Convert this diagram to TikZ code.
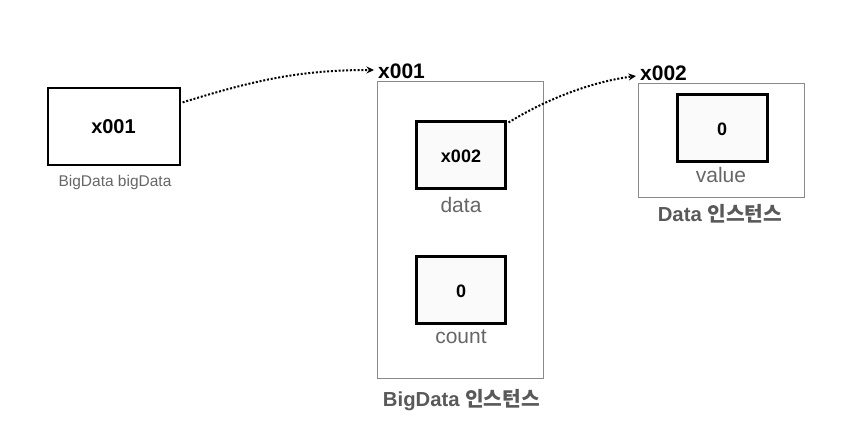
\documentclass[tikz,border=0pt]{standalone}
\usepackage{fontspec}
\setmainfont{Liberation Sans}
\newfontfamily\kr{Noto Sans CJK KR}
\usetikzlibrary{arrows.meta,calc}
\definecolor{lbl}{HTML}{666666}
\definecolor{ttl}{HTML}{595959}
\definecolor{framegray}{HTML}{8A8A8A}
\begin{document}
\begin{tikzpicture}[x=1pt,y=-1pt,
  varbox/.style={draw=black,line width=1.2pt,fill=white,inner sep=0pt},
  cellbox/.style={draw=black,line width=3pt,fill=black!2,inner sep=0pt},
  instbox/.style={draw=framegray,line width=0.9pt,inner sep=0pt},
  lbltext/.style={text=lbl,inner sep=0pt,font=\fontsize{21}{24}\selectfont},
  addr/.style={inner sep=0pt,font=\bfseries\fontsize{21}{24}\selectfont},
  celltext/.style={inner sep=0pt,font=\bfseries\fontsize{18}{22}\selectfont},
  title/.style={text=ttl,inner sep=0pt,font=\bfseries\fontsize{20.3}{24}\selectfont},
  ptr/.style={line width=2pt,dash pattern=on 2pt off 1.8pt,-{Stealth[length=7.5pt,width=7pt]}}]
\useasboundingbox (0,0) rectangle (851,435);
% left variable
\node[varbox,minimum width=132pt,minimum height=77pt] (var) at (114,126.5) {};
\node[addr,font=\bfseries\fontsize{20}{24}\selectfont] (vartxt) at (113.5,127) {x001};
\node[text=lbl,inner sep=0pt,font=\fontsize{15.5}{18}\selectfont] (varlbl) at (115,182) {BigData bigData};
% BigData instance
\node[instbox,minimum width=166pt,minimum height=297pt] (big) at (460,229.5) {};
\node[addr,anchor=west] (a1) at (378,71) {x001};
\node[cellbox,minimum width=89pt,minimum height=67pt] (data) at (460.5,155.5) {};
\node[celltext] (datatxt) at (461,156) {x002};
\node[lbltext] (datalbl) at (461,205) {data};
\node[cellbox,minimum width=89pt,minimum height=67pt] (count) at (460.5,290) {};
\node[celltext] (counttxt) at (461,291) {0};
\node[lbltext] (countlbl) at (461,337) {count};
\node[title] (bigtitle) at (461.5,400) {BigData {\kr 인스턴스}};
% Data instance
\node[instbox,minimum width=166pt,minimum height=114pt] (dinst) at (721,140) {};
\node[addr,anchor=west] (a2) at (640,73) {x002};
\node[cellbox,minimum width=90pt,minimum height=67pt] (value) at (722,128.5) {};
\node[celltext] (valuetxt) at (722,129.5) {0};
\node[lbltext] (valuelbl) at (721,175) {value};
\node[title] (dtitle) at (720,214) {Data {\kr 인스턴스}};
% pointers
\coordinate (s1) at ($(var.north east)+(2,15)$);
\coordinate (e1) at ($(a1.west)+(-4,-1)$);
\draw[ptr] (s1) .. controls (255,80) and (300,70) .. (e1);
\coordinate (s2) at ($(data.north east)+(2,2)$);
\coordinate (e2) at ($(a2.west)+(-4,3)$);
\draw[ptr] (s2) .. controls (545,100) and (590,82) .. (e2);
\end{tikzpicture}
\end{document}
